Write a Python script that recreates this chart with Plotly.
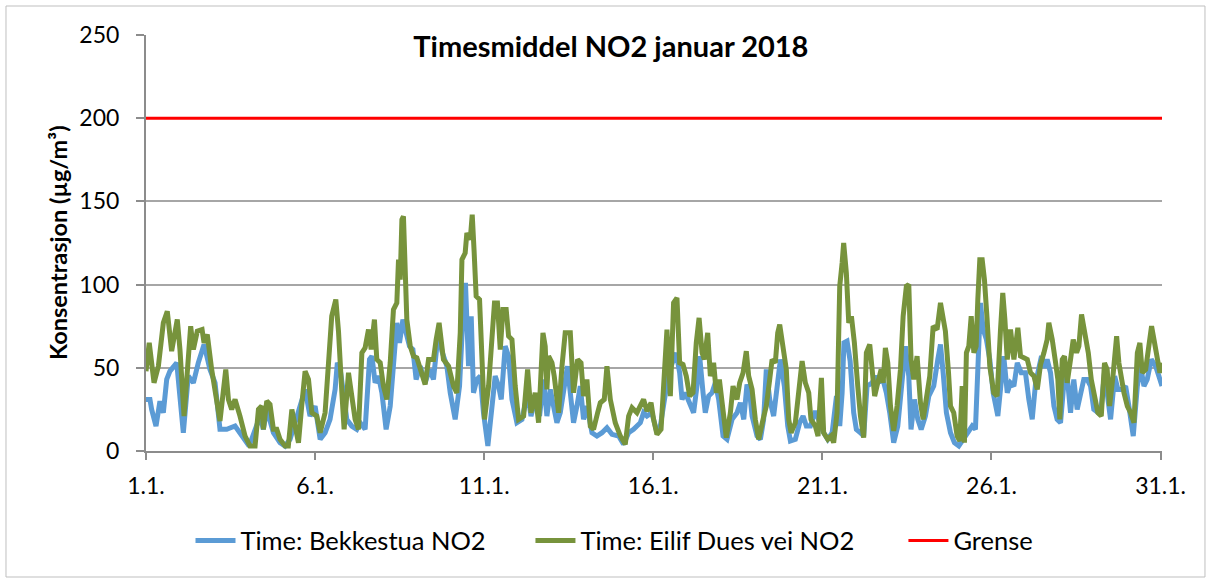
import plotly.graph_objects as go

# Hourly NO2 (µg/m³), January 2018 -- hours since 1.1. 00:00
BEKKESTUA_HOURS = [
    0, 2.8, 4.0, 7.1, 9.9, 12.3, 14.7, 17.0, 21.8, 26.5, 30.0, 33.6, 37.1, 41.2, 45.4, 49.0,
    52.5, 57.3, 63.2, 66.7, 73.2, 81.0, 83.3, 85.7, 90.4, 95.1, 98.7, 102.2, 108.2, 110.5,
    112.9, 116.4, 120.0, 123.6, 127.1, 130.6, 134.2, 135.8, 137.8, 140.1, 142.5, 146.0, 149.6,
    152.0, 155.5, 158.6, 160.3, 162.6, 165.0, 167.4, 170.4, 173.3, 175.6, 178.0, 179.9, 182.3,
    184.6, 187.0, 189.4, 191.7, 194.6, 198.1, 201.2, 204.0, 207.6, 210.0, 213.5, 215.9, 219.4,
    222.5, 224.9, 226.7, 228.9, 230.8, 232.4, 234.8, 237.2, 239.5, 242.6, 245.5, 247.8, 250.2,
    252.1, 254.9, 257.3, 259.7, 263.2, 266.8, 270.8, 273.2, 276.2, 279.3, 282.1, 284.5, 286.9,
    289.2, 291.6, 294.0, 296.3, 299.1, 301.1, 303.4, 305.8, 308.2, 310.5, 312.9, 316.5, 320.0,
    323.6, 327.1, 330.7, 335.4, 338.9, 342.5, 346.0, 350.8, 353.1, 355.5, 359.0, 362.6, 365.0,
    367.8, 370.9, 374.4, 376.3, 378.7, 380.4, 382.7, 386.3, 388.6, 391.0, 392.9, 395.3, 396.9,
    399.3, 401.7, 404.0, 406.4, 409.5, 412.3, 415.9, 419.4, 421.8, 424.2, 426.5, 428.4, 430.1,
    433.6, 436.0, 438.3, 440.2, 442.6, 445.4, 448.3, 450.2, 453.0, 455.4, 457.3, 460.8, 463.9,
    466.3, 468.6, 471.5, 475.0, 478.1, 480.9, 483.8, 486.9, 490.0, 492.3, 494.0, 495.3, 497.5,
    499.7, 502.2, 504.1, 507.0, 509.3, 511.7, 515.3, 517.6, 520.0, 522.4, 525.4, 527.8, 530.6,
    533.5, 535.9, 538.9, 541.3, 542.9, 545.3, 547.7, 550.1, 553.1, 555.5, 559.0, 561.9, 563.8,
    565.7, 568.0, 570.9, 573.7, 576.8, 579.9, 582.7, 586.3, 588.6, 590.3, 592.2, 594.1, 596.4,
    598.8, 601.2, 604.5, 606.9, 608.7, 611.2, 613.5, 615.9, 618.3, 621.1, 624.1, 626.5, 628.9,
    631.3, 633.6, 635.5, 637.5, 639.5, 641.9, 644.3, 646.6, 649.0, 651.4, 653.7, 656.1, 658.4,
    660.8, 663.2, 665.5, 667.9, 670.3, 672.6, 675.0, 677.4, 680.2, 682.1, 684.5, 687.4, 689.7,
    692.8, 695.2, 697.5, 700.6, 703.5, 705.8, 708.2, 710.5, 713.4, 716.5, 718.8, 721.0,
]
BEKKESTUA_NO2 = [
    31, 31, 25, 15, 30, 23, 43, 48, 53, 11, 45, 41, 53, 64, 49, 41,
    13, 13, 15, 11, 3, 21, 13, 25, 11, 5, 3, 7, 23, 30,
    37, 21, 27, 7, 11, 19, 37, 53, 49, 35, 19, 15, 13,
    17, 13, 55, 57, 41, 45, 35, 13, 27, 55, 77, 65, 79,
    71, 63, 61, 43, 51, 41, 49, 43, 73, 60, 51, 35, 19,
    39, 81, 101, 51, 81, 35, 43, 45, 23, 3, 23, 45, 39,
    31, 63, 57, 31, 17, 19, 35, 21, 31, 21, 43, 21, 37,
    27, 17, 23, 35, 51, 35, 17, 27, 39, 19, 27, 11, 9,
    11, 14, 10, 9, 4, 11, 13, 17, 23, 21, 23, 11, 15,
    31, 47, 55, 59, 47, 31, 35, 27, 23, 39, 57, 35, 23,
    33, 35, 41, 31, 9, 7, 19, 23, 29, 19, 40, 35, 21,
    9, 7, 19, 49, 31, 21, 39, 55, 39, 15, 6, 7, 17,
    21, 15, 15, 24, 17, 11, 7, 11, 33, 15, 35, 65, 66,
    54, 23, 13, 11, 9, 39, 41, 45, 41, 45, 35, 23, 5,
    15, 35, 63, 45, 13, 31, 19, 13, 21, 33, 39, 55, 64,
    47, 23, 11, 5, 3, 7, 11, 15, 13, 59, 89, 73, 67,
    55, 35, 21, 41, 57, 35, 41, 39, 53, 47, 47, 31, 19,
    41, 51, 57, 50, 55, 47, 27, 19, 17, 41, 45, 23, 43,
    25, 35, 43, 43, 39, 25, 23, 22, 47, 35, 19, 45, 37,
    37, 39, 27, 9, 39, 51, 39, 43, 55, 51, 45, 39,
]

EILIF_HOURS = [
    0, 2.3, 5.7, 8.8, 12.3, 15.1, 18.2, 22.2, 24.1, 27.0, 31.7, 33.6, 36.4, 39.8, 41.2, 43.5,
    46.6, 52.5, 56.6, 58.5, 60.8, 63.2, 66.7, 70.3, 73.8, 77.4, 79.8, 82.1, 83.3, 85.7, 88.0,
    90.4, 92.8, 95.1, 98.7, 101.0, 103.5, 105.8, 108.2, 110.5, 112.9, 115.3, 117.7, 121.2,
    123.6, 127.1, 129.5, 131.8, 134.7, 136.6, 139.0, 140.6, 143.7, 146.0, 148.4, 150.8, 153.2,
    155.5, 157.9, 159.8, 162.1, 163.8, 166.2, 168.5, 170.9, 173.3, 175.6, 178.0, 179.2, 180.4,
    181.6, 182.7, 183.9, 185.1, 187.5, 189.8, 192.2, 195.8, 198.1, 200.5, 204.0, 205.9, 208.0,
    211.1, 214.7, 218.2, 220.6, 223.0, 224.2, 226.5, 227.7, 230.1, 231.5, 232.9, 234.3, 236.7,
    238.4, 240.2, 243.1, 245.5, 247.3, 249.4, 251.4, 253.3, 255.6, 257.3, 259.7, 262.0, 264.4,
    268.0, 270.8, 273.2, 276.2, 278.6, 281.7, 283.3, 284.5, 285.7, 288.1, 289.7, 292.8, 295.2,
    297.5, 301.1, 303.4, 306.3, 308.7, 310.5, 312.9, 315.3, 317.6, 320.5, 322.4, 325.2, 327.1,
    329.5, 333.0, 336.6, 340.1, 342.5, 344.9, 348.4, 350.8, 353.1, 355.5, 358.4, 360.2, 362.6,
    365.5, 367.8, 369.7, 372.1, 374.4, 376.8, 378.7, 381.1, 383.4, 385.8, 388.2, 390.5, 392.5,
    394.6, 396.2, 398.6, 400.5, 402.8, 404.7, 406.9, 408.8, 411.8, 414.7, 416.6, 419.4, 421.3,
    423.7, 426.0, 427.7, 430.1, 432.4, 434.8, 437.9, 440.2, 442.6, 444.3, 446.6, 448.3, 449.7,
    452.1, 454.4, 456.1, 457.8, 460.8, 463.2, 465.6, 467.9, 470.3, 471.9, 475.0, 476.9, 479.3,
    480.9, 483.8, 486.2, 488.0, 490.4, 492.3, 494.0, 495.1, 497.0, 498.7, 500.6, 502.7, 505.1,
    507.0, 509.3, 511.2, 513.6, 515.3, 517.1, 519.3, 521.7, 523.1, 524.7, 526.4, 528.3, 530.6,
    533.0, 535.4, 537.3, 539.6, 541.3, 542.9, 544.8, 547.2, 549.6, 551.5, 553.8, 556.2, 558.6,
    561.4, 563.8, 567.3, 569.5, 570.9, 573.2, 575.6, 577.5, 579.2, 580.8, 582.2, 583.9, 585.6,
    587.5, 589.1, 590.3, 591.7, 593.4, 595.0, 596.9, 598.8, 601.6, 604.0, 606.4, 608.0, 609.5,
    611.2, 613.5, 615.9, 618.7, 620.6, 623.0, 625.4, 627.7, 630.1, 632.5, 634.8, 637.2, 639.5,
    640.7, 643.1, 645.5, 647.1, 648.5, 650.2, 651.8, 653.7, 656.1, 658.0, 660.4, 662.0, 663.9,
    666.3, 668.7, 670.8, 673.1, 675.5, 677.9, 680.2, 682.1, 683.8, 686.2, 688.8, 690.4, 692.1,
    694.0, 696.4, 698.7, 701.1, 703.5, 705.3, 707.0, 709.4, 711.7, 713.6, 715.3, 717.7, 719.5,
    721.0,
]
EILIF_NO2 = [
    48, 65, 41, 51, 77, 84, 60, 79, 61, 21, 75, 61, 72, 73, 65, 70,
    49, 18, 49, 31, 25, 31, 21, 9, 3, 3, 25, 27, 13, 30, 28,
    13, 13, 7, 3, 3, 25, 13, 5, 27, 48, 43, 23, 21,
    11, 23, 57, 81, 91, 72, 35, 13, 47, 35, 19, 13, 59,
    62, 73, 61, 79, 55, 53, 39, 31, 53, 85, 89, 115, 103,
    139, 141, 99, 79, 63, 57, 56, 45, 40, 55, 55, 67, 77,
    55, 51, 39, 35, 71, 115, 119, 131, 127, 142, 119, 93, 91,
    47, 19, 39, 65, 89, 89, 61, 85, 85, 69, 67, 39, 19,
    21, 49, 23, 35, 17, 71, 63, 37, 57, 53, 45, 23, 51,
    71, 71, 35, 55, 53, 33, 43, 15, 13, 23, 29, 31, 51,
    31, 17, 9, 4, 21, 26, 23, 27, 31, 24, 29, 19, 10,
    13, 41, 73, 33, 89, 92, 53, 52, 45, 33, 35, 65, 80,
    59, 55, 71, 45, 53, 35, 43, 27, 8, 23, 39, 31, 41,
    47, 60, 45, 37, 19, 7, 19, 27, 43, 55, 53, 71, 76,
    59, 49, 19, 11, 17, 35, 54, 41, 35, 19, 15, 9, 44,
    11, 7, 9, 5, 23, 99, 113, 125, 107, 77, 81, 65, 39,
    21, 8, 59, 64, 45, 33, 41, 49, 41, 62, 53, 27, 12,
    27, 49, 81, 99, 100, 55, 43, 57, 29, 19, 31, 45, 75,
    73, 89, 72, 47, 27, 23, 9, 6, 39, 5, 59, 63, 81,
    59, 63, 91, 115, 115, 103, 79, 51, 35, 33, 73, 95, 79,
    55, 73, 55, 74, 57, 56, 55, 47, 45, 37, 52, 59, 67,
    77, 67, 53, 43, 19, 55, 57, 41, 55, 67, 59, 63, 82,
    71, 59, 43, 31, 23, 21, 53, 49, 27, 45, 69, 53, 43,
    35, 27, 23, 17, 59, 65, 47, 49, 63, 75, 67, 55, 47,
    53,
]

GRENSE_HOURS = [0, 721]
GRENSE = [200, 200]

TICK_HOURS = [0, 120, 240, 360, 480, 600, 720]
TICK_LABELS = ["1.1.", "6.1.", "11.1.", "16.1.", "21.1.", "26.1.", "31.1."]
Y_TICKS = [0, 50, 100, 150, 200, 250]

FONT = "Lato"
AXIS_GREY = "#8c8c8c"

fig = go.Figure()

fig.add_trace(go.Scatter(
    x=BEKKESTUA_HOURS, y=BEKKESTUA_NO2, mode="lines",
    name="Time: Bekkestua NO2",
    line={"color": "#5b9bd5", "width": 5},
    legend="legend",
))
fig.add_trace(go.Scatter(
    x=EILIF_HOURS, y=EILIF_NO2, mode="lines",
    name="Time: Eilif Dues vei NO2",
    line={"color": "#77933c", "width": 5},
    legend="legend2",
))
fig.add_trace(go.Scatter(
    x=GRENSE_HOURS, y=GRENSE, mode="lines",
    name="Grense",
    line={"color": "#ff0000", "width": 3},
    legend="legend3",
))

# y-axis title, placed by hand like Excel does
fig.add_annotation(
    text="<b>Konsentrasjon (µg/m³)</b>",
    xref="paper", yref="paper", x=-0.0866, y=0.5,
    xanchor="center", yanchor="middle",
    textangle=-90, showarrow=False,
    font={"family": FONT, "size": 23.5, "color": "black"},
)

# chart border
fig.add_shape(
    type="rect", xref="paper", yref="paper",
    x0=-0.1378, x1=1.0423, y0=-0.3029, y1=1.0697,
    line={"color": "#bfbfbf", "width": 1},
)

legend_style = {
    "orientation": "h",
    "xanchor": "left",
    "yanchor": "middle", "y": -0.216,
    "font": {"family": FONT, "size": 25.5, "color": "black"},
    "itemwidth": 40,
    "bgcolor": "rgba(0,0,0,0)",
}

fig.update_layout(
    width=1212,
    height=579,
    margin={"l": 146, "r": 50, "t": 35, "b": 128},
    paper_bgcolor="white",
    plot_bgcolor="white",
    font={"family": FONT, "color": "black"},
    title={
        "text": "<b>Timesmiddel NO2 januar 2018</b>",
        "x": 0.504, "xanchor": "center",
        "y": 0.919, "yanchor": "middle",
        "font": {"family": FONT, "size": 29, "color": "black"},
    },
    showlegend=True,
    legend={**legend_style, "x": 0.0438},
    legend2={**legend_style, "x": 0.3784},
    legend3={**legend_style, "x": 0.7455},
)

fig.update_xaxes(
    range=[0, 721],
    tickmode="array", tickvals=TICK_HOURS, ticktext=TICK_LABELS,
    ticks="outside", ticklen=7, tickwidth=1.5, tickcolor=AXIS_GREY,
    showline=True, linecolor=AXIS_GREY, linewidth=2,
    showgrid=False, zeroline=False,
    tickfont={"family": FONT, "size": 23, "color": "black"},
    ticklabelstandoff=6,
)
fig.update_yaxes(
    range=[0, 250],
    tickmode="array", tickvals=Y_TICKS,
    ticks="outside", ticklen=8, tickwidth=1.5, tickcolor=AXIS_GREY,
    showline=True, linecolor=AXIS_GREY, linewidth=2,
    showgrid=True, gridcolor="#a6a6a6", gridwidth=1.5,
    zeroline=False,
    tickfont={"family": FONT, "size": 23, "color": "black"},
    ticklabelstandoff=12,
)

fig.write_html(
    "out.html",
    config={"displayModeBar": False},
    post_script="document.body.style.margin = '0px';",
)
